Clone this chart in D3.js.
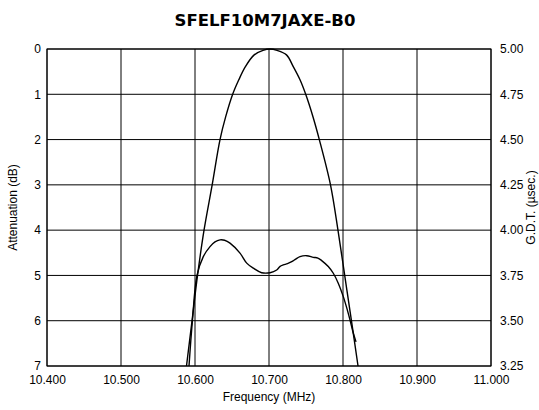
<!DOCTYPE html>
<html><head><meta charset="utf-8">
<script src="https://cdn.jsdelivr.net/npm/d3@7/dist/d3.min.js"></script>
<style>body{margin:0;background:#fff}svg{display:block}</style>
</head><body><div id="chart"></div>
<script>
const title = "SFELF10M7JAXE-B0";
const freqTicks = [10.4, 10.5, 10.6, 10.7, 10.8, 10.9, 11.0];
const attTicks = [0, 1, 2, 3, 4, 5, 6, 7];
const gdtTicks = [5.00, 4.75, 4.50, 4.25, 4.00, 3.75, 3.50, 3.25];
// Attenuation curve (MHz, dB)
const attFreq = [10.5885, 10.5960, 10.6034, 10.6122, 10.6232, 10.6338, 10.6414, 10.6509, 10.6592, 10.6681, 10.6800, 10.6919, 10.7013, 10.7108, 10.7236, 10.7328, 10.7419, 10.7496, 10.7595, 10.7680, 10.7831, 10.7932, 10.8023, 10.8114, 10.8203];
const attVal  = [7.0, 6.0, 5.0, 4.0, 3.0, 2.0, 1.5, 1.0, 0.68, 0.39, 0.13, 0.03, 0.0, 0.03, 0.13, 0.39, 0.68, 1.0, 1.5, 2.0, 3.0, 4.0, 5.0, 6.0, 7.0];
// Group delay time curve (MHz, usec)
const gdtFreq = [10.5919, 10.5965, 10.6027, 10.6112, 10.6203, 10.627, 10.6338, 10.640, 10.6473, 10.6608, 10.6699, 10.6788, 10.6901, 10.7014, 10.7104, 10.7150, 10.7193, 10.7250, 10.7307, 10.7360, 10.7419, 10.7509, 10.7599, 10.7660, 10.7712, 10.7801, 10.7869, 10.7936, 10.8004, 10.8058, 10.8095, 10.8135, 10.8176];
const gdtVal  = [3.25, 3.50, 3.75, 3.854, 3.909, 3.935, 3.946, 3.944, 3.928, 3.873, 3.818, 3.790, 3.765, 3.765, 3.780, 3.800, 3.808, 3.815, 3.826, 3.840, 3.854, 3.859, 3.850, 3.846, 3.832, 3.799, 3.762, 3.707, 3.633, 3.560, 3.504, 3.438, 3.383];

const W = 539, H = 410;
const L = 47, R = 491, T = 49, B = 366;
const svg = d3.select("#chart").append("svg").attr("width", W).attr("height", H);
const x = d3.scaleLinear().domain([10.4, 11.0]).range([L, R]);
const yA = d3.scaleLinear().domain([0, 7]).range([T, B]);
const yG = d3.scaleLinear().domain([3.25, 5.0]).range([B, T]);
const font = "'Liberation Sans', Arial, sans-serif";

// grid
const g = svg.append("g");
g.selectAll("line.v").data(freqTicks).join("line")
  .attr("x1", d => x(d)).attr("x2", d => x(d)).attr("y1", T).attr("y2", B)
  .attr("stroke", "#000").attr("stroke-width", 1);
g.selectAll("line.h").data(attTicks).join("line")
  .attr("y1", d => yA(d)).attr("y2", d => yA(d)).attr("x1", L).attr("x2", R)
  .attr("stroke", "#000").attr("stroke-width", 1);

// axes (labels only, no outer ticks)
const ax = svg.append("g").attr("transform", `translate(0,${B})`)
  .call(d3.axisBottom(x).tickValues(freqTicks).tickFormat(d3.format(".3f")).tickSize(0).tickPadding(9));
const al = svg.append("g").attr("transform", `translate(${L},0)`)
  .call(d3.axisLeft(yA).tickValues(attTicks).tickFormat(d3.format("d")).tickSize(0).tickPadding(6));
const ar = svg.append("g").attr("transform", `translate(${R},0)`)
  .call(d3.axisRight(yG).tickValues(gdtTicks).tickFormat(d3.format(".2f")).tickSize(0).tickPadding(9));
[ax, al, ar].forEach(a => {
  a.select(".domain").remove();
  a.attr("font-family", null).attr("font-size", null);
  a.selectAll("text").style("font-family", font).style("font-size", "12px").attr("fill", "#000");
});

// frame
svg.append("rect").attr("x", L).attr("y", T).attr("width", R - L).attr("height", B - T)
  .attr("fill", "none").attr("stroke", "#000").attr("stroke-width", 1);

// curves
const attData = attFreq.map((f, i) => [f, attVal[i]]);
const gdtData = gdtFreq.map((f, i) => [f, gdtVal[i]]);
svg.append("path").datum(attData)
  .attr("d", d3.line().x(d => x(d[0])).y(d => yA(d[1])).curve(d3.curveCatmullRom.alpha(0.5)))
  .attr("fill", "none").attr("stroke", "#000").attr("stroke-width", 1.4);
svg.append("path").datum(gdtData)
  .attr("d", d3.line().x(d => x(d[0])).y(d => yG(d[1])).curve(d3.curveCatmullRom.alpha(0.5)))
  .attr("fill", "none").attr("stroke", "#000").attr("stroke-width", 1.4);

// titles
svg.append("text").attr("x", 265).attr("y", 26).attr("text-anchor", "middle")
  .style("font-family", "'DejaVu Sans', sans-serif").style("font-weight", "bold").style("font-size", "16.5px")
  .text(title);
svg.append("text").attr("x", (L + R) / 2).attr("y", 401).attr("text-anchor", "middle")
  .style("font-family", font).style("font-size", "12px").text("Frequency (MHz)");
svg.append("text").attr("transform", `translate(17,${(T + B) / 2}) rotate(-90)`).attr("text-anchor", "middle")
  .style("font-family", font).style("font-size", "12px").text("Attenuation (dB)");
svg.append("text").attr("transform", `translate(535,${(T + B) / 2}) rotate(-90)`).attr("text-anchor", "middle")
  .style("font-family", font).style("font-size", "12px").text("G.D.T. (µsec.)");
</script></body></html>
